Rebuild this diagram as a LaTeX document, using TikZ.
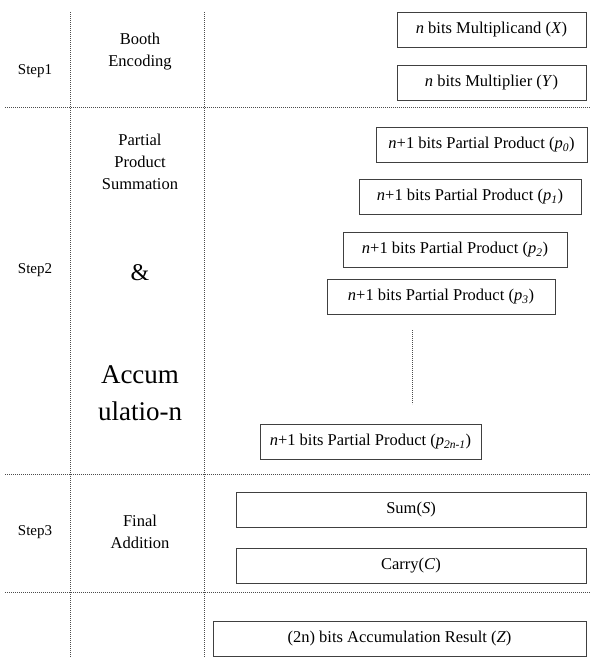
\documentclass[tikz,border=0pt]{standalone}
\usepackage{fontspec}
\setmainfont{Liberation Serif}
\begin{document}
\begin{tikzpicture}[x=1pt, y=1pt,
bitbox/.style={rectangle, draw=black!75, line width=0.8pt, minimum height=35pt, inner sep=0pt, font=\fontsize{16.5}{18}\selectfont},
gridline/.style={draw=black!70, line width=0.8pt, dash pattern=on 1.2pt off 0.8pt},
steplabel/.style={font=\fontsize{15}{17}\selectfont},
phaselabel/.style={align=center, font=\fontsize{16.5}{22}\selectfont},
biglabel/.style={align=center, font=\fontsize{27}{37}\selectfont},
]
\useasboundingbox (0,0) rectangle (590,-657);
%Grid
\draw[gridline] (70,-12) -- (70,-657);
\draw[gridline] (204,-12) -- (204,-657);
\draw[gridline] (5,-107) -- (590,-107);
\draw[gridline] (5,-474) -- (590,-474);
\draw[gridline] (5,-592) -- (590,-592);
%Labels
\node[steplabel] at (35,-71) (stepA) {Step1};
\node[steplabel] at (35,-270) (stepB) {Step2};
\node[steplabel] at (35,-532) (stepC) {Step3};
\node[phaselabel] at (140,-52) (booth) {Booth\\Encoding};
\node[phaselabel] at (140,-162) (summ) {Partial\\Product\\Summation};
\node[biglabel, font=\fontsize{24}{26}\selectfont] at (140,-273) (amp) {\&};
\node[biglabel] at (140,-393) (accum) {Accum\\ulatio-n};
\node[phaselabel] at (140,-532) (final) {Final\\Addition};
%Nodes
\node[bitbox, minimum width=189pt] at (491.5,-29.5) (mcand) {\textit{n} bits Multiplicand (\textit{X})};
\node[bitbox, minimum width=189pt] at (491.5,-82.5) (mplier) {\textit{n} bits Multiplier (\textit{Y})};
\node[bitbox, minimum width=211pt] at (481.5,-145) (ppA) {\textit{n}+1 bits Partial Product (\textit{p}\textsubscript{\textit{0}})};
\node[bitbox, minimum width=222pt] at (470,-197) (ppB) {\textit{n}+1 bits Partial Product (\textit{p}\textsubscript{\textit{1}})};
\node[bitbox, minimum width=224pt] at (455,-249.5) (ppC) {\textit{n}+1 bits Partial Product (\textit{p}\textsubscript{\textit{2}})};
\node[bitbox, minimum width=228pt] at (441,-296.5) (ppD) {\textit{n}+1 bits Partial Product (\textit{p}\textsubscript{\textit{3}})};
\node[bitbox, minimum width=221pt] at (370.5,-441.5) (ppN) {\textit{n}+1 bits Partial Product (\textit{p}\textsubscript{\textit{2n-1}})};
\node[bitbox, minimum width=350pt] at (411,-509.5) (sum) {Sum(\textit{S})};
\node[bitbox, minimum width=350pt] at (411,-565.5) (carry) {Carry(\textit{C})};
\node[bitbox, minimum width=373pt] at (399.5,-638.5) (result) {(2n) bits Accumulation Result (\textit{Z})};
%Dots
\coordinate (dotsTop) at (412,-330);
\coordinate (dotsBot) at (412,-404);
\draw[gridline] (dotsTop) -- (dotsBot);
\end{tikzpicture}
\end{document}
